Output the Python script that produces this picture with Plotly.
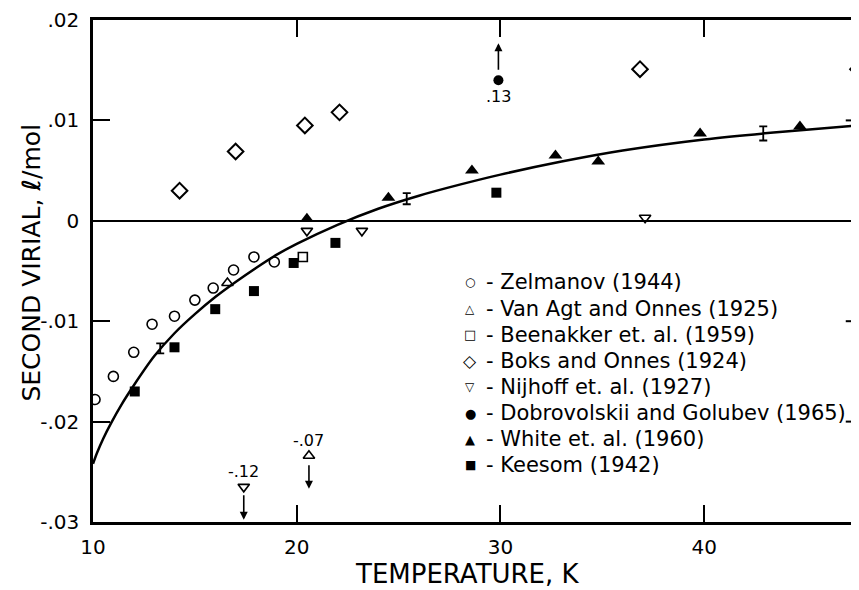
import plotly.graph_objects as go

# ---------------- data ----------------
zel_T = [10.1, 11.0, 12.0, 12.9, 14.0, 15.0, 15.9, 16.9, 17.9, 18.9]
zel_B = [-0.0178, -0.0155, -0.0131, -0.0103, -0.0095, -0.0079, -0.0067, -0.0049, -0.0036, -0.0041]
vao_T = [16.6]
vao_B = [-0.0062]
been_T = [20.3]
been_B = [-0.0036]
boks_T = [14.25, 17.0, 20.4, 22.1, 36.85, 47.55]
boks_B = [0.0030, 0.0069, 0.0095, 0.0108, 0.0151, 0.0151]
nij_T = [20.5, 23.2, 37.1]
nij_B = [-0.0010, -0.0010, 0.0003]
dob_T = [29.9]
dob_B = [0.0140]          # true value .13, shown at top edge with arrow
white_T = [20.5, 24.5, 28.6, 32.7, 34.8, 39.8, 44.7]
white_B = [0.0002, 0.0023, 0.0050, 0.0065, 0.0059, 0.0087, 0.0094]
kee_T = [12.05, 14.0, 16.0, 17.9, 19.85, 21.9, 29.8]
kee_B = [-0.0170, -0.0126, -0.0088, -0.0070, -0.0042, -0.0022, 0.0028]

# off-scale points (shown near the bottom edge with arrows)
off_nij_T = [17.4]
off_nij_B = [-0.0265]
off_nij_label = "-.12"
off_vao_T = [20.6]
off_vao_B = [-0.0234]
off_vao_label = "-.07"
dob_label = ".13"

# error bars on the curve
err_T = [13.3, 25.4, 42.9]
err_B = [-0.0127, 0.0022, 0.0087]
err_D = [0.0005, 0.00055, 0.0007]

# smooth theoretical curve
curve_T = [10.0, 10.2, 10.5, 10.9, 11.4, 12, 13, 14, 15, 16, 17, 18, 19, 20, 22, 24, 26, 28, 30, 33, 36,
           40, 44, 47.6]
curve_B = [-0.0242, -0.0231, -0.0217, -0.0201, -0.0183, -0.0164, -0.0135, -0.0112, -0.0093, -0.0076,
           -0.0061, -0.0047, -0.0034, -0.0023, -0.0004, 0.0012, 0.0025, 0.0036, 0.0046, 0.0059,
           0.0070, 0.0081, 0.0089, 0.0095]

y_ticks = [0.02, 0.01, 0.0, -0.01, -0.02, -0.03]
y_ticktext = [".02", ".01", "0", "-.01", "-.02", "-.03"]
x_ticks = [10, 20, 30, 40]
x_ticktext = ["10", "20", "30", "40"]

legend_names = ["Zelmanov (1944)", "Van Agt and Onnes (1925)", "Beenakker et. al. (1959)",
                "Boks and Onnes (1924)", "Nijhoff et. al. (1927)", "Dobrovolskii and Golubev (1965)",
                "White et. al. (1960)", "Keesom (1942)"]
legend_glyphs = ["○", "△", "□", "◇", "▽", "●", "▲", "■"]
legend_glyph_sizes = [12, 12, 13, 17, 12, 13, 13, 12]

FONT = "DejaVu Sans"
BLACK = "black"

# layout geometry (pixels inside the figure)
W, H = 851, 582
ML, MR, MT, MB = 85, 0, 9, 68
PH = H - MT - MB
PW = W - ML - MR


def py(fig_y):
    """figure pixel row -> paper y"""
    return (H - MB - fig_y) / PH


def px(fig_x):
    """figure pixel column -> paper x"""
    return (fig_x - ML) / PW


fig = go.Figure()

fig.add_trace(go.Scatter(x=curve_T, y=curve_B, mode="lines",
                         line=dict(color=BLACK, width=2.5, shape="spline", smoothing=0.8),
                         showlegend=False, hoverinfo="skip"))
fig.add_trace(go.Scatter(x=err_T, y=err_B, mode="markers", marker=dict(size=1, color="rgba(0,0,0,0)"),
                         error_y=dict(type="data", array=err_D, color=BLACK, thickness=1.8, width=4),
                         showlegend=False))


def mk(symbol, size, lw=1.6):
    return dict(symbol=symbol, size=size, color=BLACK, line=dict(color=BLACK, width=lw))


series = [
    (legend_names[0], zel_T, zel_B, mk("circle-open", 10)),
    (legend_names[1], vao_T, vao_B, mk("triangle-up-open", 10)),
    (legend_names[2], been_T, been_B, mk("square-open", 9)),
    (legend_names[3], boks_T, boks_B, mk("diamond-open", 12, 2)),
    (legend_names[4], nij_T, nij_B, mk("triangle-down-open", 10)),
    (legend_names[5], dob_T, dob_B, mk("circle", 10, 0)),
    (legend_names[6], white_T, white_B, mk("triangle-up", 12, 0)),
    (legend_names[7], kee_T, kee_B, mk("square", 10, 0)),
]
for name, xs, ys, m in series:
    fig.add_trace(go.Scatter(x=xs, y=ys, mode="markers", marker=m, name=name, showlegend=False))

fig.add_trace(go.Scatter(x=off_nij_T, y=off_nij_B, mode="markers", marker=mk("triangle-down-open", 10),
                         showlegend=False))
fig.add_trace(go.Scatter(x=off_vao_T, y=off_vao_B, mode="markers", marker=mk("triangle-up-open", 10),
                         showlegend=False))

annotations = []
# labels for off-scale values
for T, B, lab, shift in [(off_nij_T[0], off_nij_B[0], off_nij_label, 15),
                         (off_vao_T[0], off_vao_B[0], off_vao_label, 15),
                         (dob_T[0], dob_B[0], dob_label, -16)]:
    annotations.append(dict(x=T, y=B, text=lab, showarrow=False, yshift=shift,
                            font=dict(family=FONT, size=16, color=BLACK)))
# arrows
for T, B, yshift, ay in [(off_nij_T[0], off_nij_B[0], -33, -26),
                         (off_vao_T[0], off_vao_B[0], -33, -25),
                         (dob_T[0], dob_B[0], 37, 28)]:
    annotations.append(dict(x=T, y=B, text="", showarrow=True, ax=0, ay=ay, yshift=yshift,
                            arrowhead=2, arrowsize=1, arrowwidth=1.6, arrowcolor=BLACK, standoff=0))

# key (legend) as text rows
row0, row_gap = 273, 26.3
for i, (g, gs, nm) in enumerate(zip(legend_glyphs, legend_glyph_sizes, legend_names)):
    yy = py(row0 + i * row_gap)
    annotations.append(dict(xref="paper", yref="paper", x=px(462), y=yy, text=g, showarrow=False,
                            xanchor="center", yanchor="middle", font=dict(family=FONT, size=gs, color=BLACK)))
    annotations.append(dict(xref="paper", yref="paper", x=px(476), y=yy, text="- " + nm, showarrow=False,
                            xanchor="left", yanchor="middle", font=dict(family=FONT, size=21, color=BLACK)))

# axis titles
annotations.append(dict(xref="paper", yref="paper", x=px(459), y=py(566),
                        text="TEMPERATURE, K", showarrow=False,
                        font=dict(family=FONT, size=26, color=BLACK), xanchor="center", yanchor="middle"))
annotations.append(dict(xref="paper", yref="paper", x=px(24), y=py(253),
                        text="SECOND VIRIAL, <i><b>ℓ</b></i>/mol",
                        showarrow=False, textangle=-90, font=dict(family=FONT, size=25, color=BLACK),
                        xanchor="center", yanchor="middle"))

shapes = []
# right-side inward ticks (right frame lies just off the picture)
for yv in [0.01, -0.01, -0.02]:
    shapes.append(dict(type="line", xref="x", yref="y", x0=46.95, x1=47.6, y0=yv, y1=yv,
                       line=dict(color=BLACK, width=2)))

fig.update_layout(
    width=W, height=H,
    margin=dict(l=ML, r=MR, t=MT, b=MB),
    paper_bgcolor="white", plot_bgcolor="white",
    font=dict(family=FONT, size=20, color=BLACK),
    annotations=annotations, shapes=shapes, showlegend=False,
)
fig.update_xaxes(range=[10, 47.6], tickvals=x_ticks, ticktext=x_ticktext, ticks="inside", ticklen=17,
                 tickwidth=2, tickcolor=BLACK, showline=True, linewidth=2.5, linecolor=BLACK,
                 mirror="ticks", showgrid=False, zeroline=False, ticklabelstandoff=5,
                 ticklabeloverflow="allow", tickfont=dict(family=FONT, size=20))
fig.update_yaxes(range=[-0.03, 0.02], tickvals=y_ticks, ticktext=y_ticktext, ticks="inside", ticklen=17,
                 tickwidth=2, tickcolor=BLACK, showline=True, linewidth=2.5, linecolor=BLACK,
                 showgrid=False, zeroline=True, zerolinecolor=BLACK, zerolinewidth=2,
                 ticklabelstandoff=7, ticklabeloverflow="allow", tickfont=dict(family=FONT, size=20))

fig.write_html("out.html")
